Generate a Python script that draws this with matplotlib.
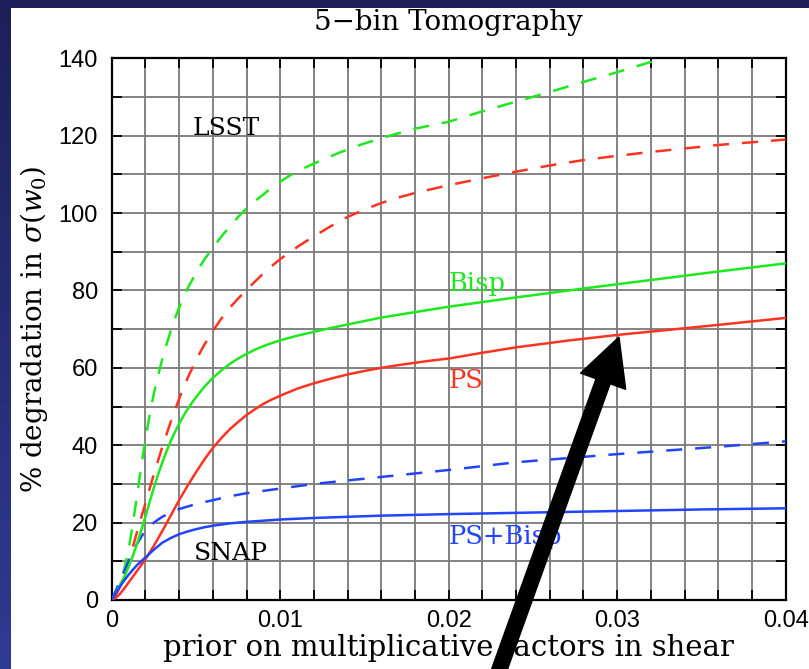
import numpy as np
import matplotlib
matplotlib.use('Agg')
import matplotlib.pyplot as plt
from matplotlib.patches import FancyArrow
from matplotlib.transforms import IdentityTransform

plt.rcParams['mathtext.fontset'] = 'dejavuserif'

# LSST (dashed) and SNAP (solid)
x_lsst_bisp = [0, 0.00025, 0.0005, 0.00075, 0.001, 0.00125, 0.0015, 0.00175, 0.002, 0.00225,
               0.0025, 0.00275, 0.003, 0.00325, 0.0035, 0.00375, 0.004, 0.0045, 0.005, 0.0055,
               0.006, 0.0065, 0.007, 0.0075, 0.008, 0.0085, 0.009, 0.0095, 0.01, 0.0106,
               0.0113, 0.012, 0.0128, 0.0135, 0.0143, 0.015, 0.0158, 0.0165, 0.018, 0.02,
               0.022, 0.024, 0.026, 0.028, 0.030, 0.0327]
y_lsst_bisp = [0, 1.5, 4, 8, 13, 19.5, 27, 34.5, 41.5, 47.8,
               53.3, 58, 62.2, 66, 69.5, 72.7, 75.6, 80.5, 84.5, 88,
               91, 93.9, 96.5, 99, 101.2, 103.1, 104.8, 106.6, 108.1, 109.8,
               111.4, 112.8, 114.3, 115.6, 116.9, 118, 119, 120, 121.8, 123.6,
               126.3, 128.8, 131.3, 133.9, 136.4, 140]

x_lsst_ps = [0, 0.00025, 0.0005, 0.00075, 0.001, 0.00125, 0.0015, 0.00175, 0.002, 0.0025,
             0.003, 0.0035, 0.004, 0.0045, 0.005, 0.0055, 0.006, 0.0065, 0.007, 0.0075,
             0.008, 0.0085, 0.009, 0.0095, 0.01, 0.011, 0.012, 0.013, 0.014, 0.015,
             0.016, 0.017, 0.018, 0.019, 0.02, 0.022, 0.024, 0.026, 0.028, 0.030,
             0.032, 0.034, 0.036, 0.038, 0.04]
y_lsst_ps = [0, 1.3, 3.5, 6.5, 10, 13.7, 17.5, 21.3, 25, 32.5,
             39.5, 46, 52, 57.3, 62, 66, 69.5, 72.7, 75.5, 77.9,
             80.1, 82.3, 84.4, 86.3, 88.1, 91.2, 94, 96.6, 99, 100.9,
             102.6, 104, 105.2, 106.2, 107.2, 109, 110.7, 112.3, 113.7, 114.8,
             115.8, 116.7, 117.6, 118.3, 119]

x_lsst_both = [0, 0.0005, 0.001, 0.0015, 0.002, 0.0025, 0.003, 0.0035, 0.004, 0.005,
               0.006, 0.007, 0.008, 0.009, 0.01, 0.012, 0.014, 0.016, 0.02, 0.024,
               0.03, 0.036, 0.04]
y_lsst_both = [0, 5, 10, 14.5, 18, 20, 21.5, 22.6, 23.5, 24.8,
               25.8, 26.8, 27.6, 28.2, 28.8, 30, 30.9, 31.8, 33.6, 35.6,
               37.7, 39.6, 41]

x_snap_bisp = [0, 0.00025, 0.0005, 0.00075, 0.001, 0.00125, 0.0015, 0.00175, 0.002, 0.00225,
               0.0025, 0.00275, 0.003, 0.00325, 0.0035, 0.00375, 0.004, 0.00425, 0.0045, 0.00475,
               0.005, 0.0055, 0.006, 0.0065, 0.007, 0.0075, 0.008, 0.0085, 0.009, 0.0095,
               0.01, 0.011, 0.012, 0.013, 0.014, 0.015, 0.016, 0.018, 0.02, 0.024,
               0.028, 0.032, 0.036, 0.04]
y_snap_bisp = [0, 1.8, 4, 6, 8.5, 11.3, 14.5, 18, 21.5, 25.3,
               29, 32.4, 35.5, 38.4, 41, 43.4, 45.5, 47.5, 49.3, 50.9,
               52.4, 55.1, 57.4, 59.3, 61, 62.4, 63.6, 64.7, 65.6, 66.4,
               67.1, 68.3, 69.3, 70.3, 71.2, 72.1, 73, 74.4, 75.8, 78.2,
               80.5, 82.7, 84.9, 87]

x_snap_ps = [0, 0.00025, 0.0005, 0.00075, 0.001, 0.00125, 0.0015, 0.00175, 0.002, 0.0025,
             0.003, 0.0035, 0.004, 0.0045, 0.005, 0.0055, 0.006, 0.0065, 0.007, 0.0075,
             0.008, 0.0085, 0.009, 0.0095, 0.01, 0.011, 0.012, 0.013, 0.014, 0.015,
             0.016, 0.017, 0.018, 0.019, 0.02, 0.022, 0.024, 0.027, 0.03, 0.033,
             0.036, 0.04]
y_snap_ps = [0, 0.6, 1.6, 3, 4.5, 6, 7.5, 9, 10.5, 14,
             17.8, 21.8, 25.8, 29.5, 33, 36.3, 39.3, 41.8, 44.1, 46,
             47.8, 49.3, 50.7, 51.8, 52.8, 54.6, 56, 57.2, 58.3, 59.2,
             60, 60.7, 61.3, 61.9, 62.4, 63.9, 65.3, 67, 68.5, 69.8,
             71.1, 72.9]

x_snap_both = [0, 0.00025, 0.0005, 0.00075, 0.001, 0.00125, 0.0015, 0.00175, 0.002, 0.00225,
               0.0025, 0.00275, 0.003, 0.0035, 0.004, 0.0045, 0.005, 0.0055, 0.006, 0.007,
               0.008, 0.009, 0.01, 0.012, 0.014, 0.016, 0.02, 0.025, 0.03, 0.035,
               0.04]
y_snap_both = [0, 1.8, 3.5, 5.1, 6.5, 7.8, 9, 10, 11, 12,
               13, 13.9, 14.8, 16, 17, 17.7, 18.3, 18.8, 19.2, 19.8,
               20.2, 20.5, 20.8, 21.2, 21.5, 21.8, 22.2, 22.6, 23, 23.4,
               23.7]

green = '#1ee81e'
red = '#ff3322'
blue = '#2244ff'
dash = (0, (6.4, 5.2))

fig = plt.figure(figsize=(8.09, 6.69), dpi=100)
fig.patch.set_facecolor('white')

# dark slide border: top band and left strip
band = fig.add_axes([0, 1 - 8/669., 1, 8/669.])
band.set_facecolor('#1d1f58')
band.set_xticks([]); band.set_yticks([])
for s in band.spines.values():
    s.set_visible(False)
strip = fig.add_axes([0, 0, 11/809., 1])
grad = np.linspace(0, 1, 256).reshape(-1, 1)
cm = matplotlib.colors.LinearSegmentedColormap.from_list('slide', ['#2f3b92', '#1d1f58'])
strip.imshow(grad, aspect='auto', cmap=cm, origin='lower')
strip.axis('off')

ax = fig.add_axes([111.7/809., 69/669., 674/809., 541.7/669.])
ax.plot(x_lsst_bisp, y_lsst_bisp, color=green, lw=1.8, ls=dash, zorder=3)
ax.plot(x_lsst_ps, y_lsst_ps, color=red, lw=1.8, ls=dash, zorder=3)
ax.plot(x_lsst_both, y_lsst_both, color=blue, lw=1.8, ls=dash, zorder=3)
ax.plot(x_snap_bisp, y_snap_bisp, color=green, lw=1.8, zorder=3)
ax.plot(x_snap_ps, y_snap_ps, color=red, lw=1.8, zorder=3)
ax.plot(x_snap_both, y_snap_both, color=blue, lw=1.8, zorder=3)

ax.set_xlim(0, 0.04)
ax.set_ylim(0, 140)
ax.set_xticks([0, 0.01, 0.02, 0.03, 0.04])
ax.set_xticklabels(['0', '0.01', '0.02', '0.03', '0.04'])
ax.set_xticks(np.arange(0, 0.0401, 0.002), minor=True)
ax.set_yticks(np.arange(0, 141, 20))
ax.set_yticks(np.arange(0, 141, 10), minor=True)
ax.grid(True, which='both', color='#7a7a7a', lw=1.3)
ax.set_axisbelow(True)
ax.tick_params(which='both', direction='in', top=True, right=True, length=7, width=1.3,
               color='black')
ax.tick_params(axis='x', pad=7, labelsize=17)
ax.tick_params(axis='y', pad=10, labelsize=17)
for lab in ax.get_xticklabels() + ax.get_yticklabels():
    lab.set_family('Liberation Sans')
for s in ax.spines.values():
    s.set_linewidth(1.6)
    s.set_color('black')

ax.set_xlabel('prior on multiplicative factors in shear', family='DejaVu Serif', fontsize=21,
              labelpad=2)
ax.set_ylabel(r'% degradation in $\sigma(w_0)$', family='DejaVu Serif', fontsize=20,
              labelpad=6)
fig.text(448/809., 1 - 23/669., '5\u2212bin Tomography', family='DejaVu Serif', fontsize=20,
         ha='center', va='center')

ax.text(0.0068, 121.9, 'LSST', family='DejaVu Serif', fontsize=18, ha='center', va='center')
ax.text(0.0071, 11.9, 'SNAP', family='DejaVu Serif', fontsize=18, ha='center', va='center')
ax.text(0.02, 81.8, 'Bisp', family='DejaVu Serif', fontsize=18.5, color=green, va='center')
ax.text(0.02, 56.8, 'PS', family='DejaVu Serif', fontsize=18.5, color=red, va='center')
ax.text(0.02, 16.5, 'PS+Bisp', family='DejaVu Serif', fontsize=18.5, color=blue, va='center')

# big black arrow drawn over the slide, in pixel coordinates
x0, y0 = 496, -10
x1, y1 = 619, 669 - 337
arrow = FancyArrow(x0, y0, x1 - x0, y1 - y0, width=15, head_width=48, head_length=47,
                   length_includes_head=True, color='black', transform=IdentityTransform())
fig.add_artist(arrow)

fig.savefig('out.png', dpi=100)
